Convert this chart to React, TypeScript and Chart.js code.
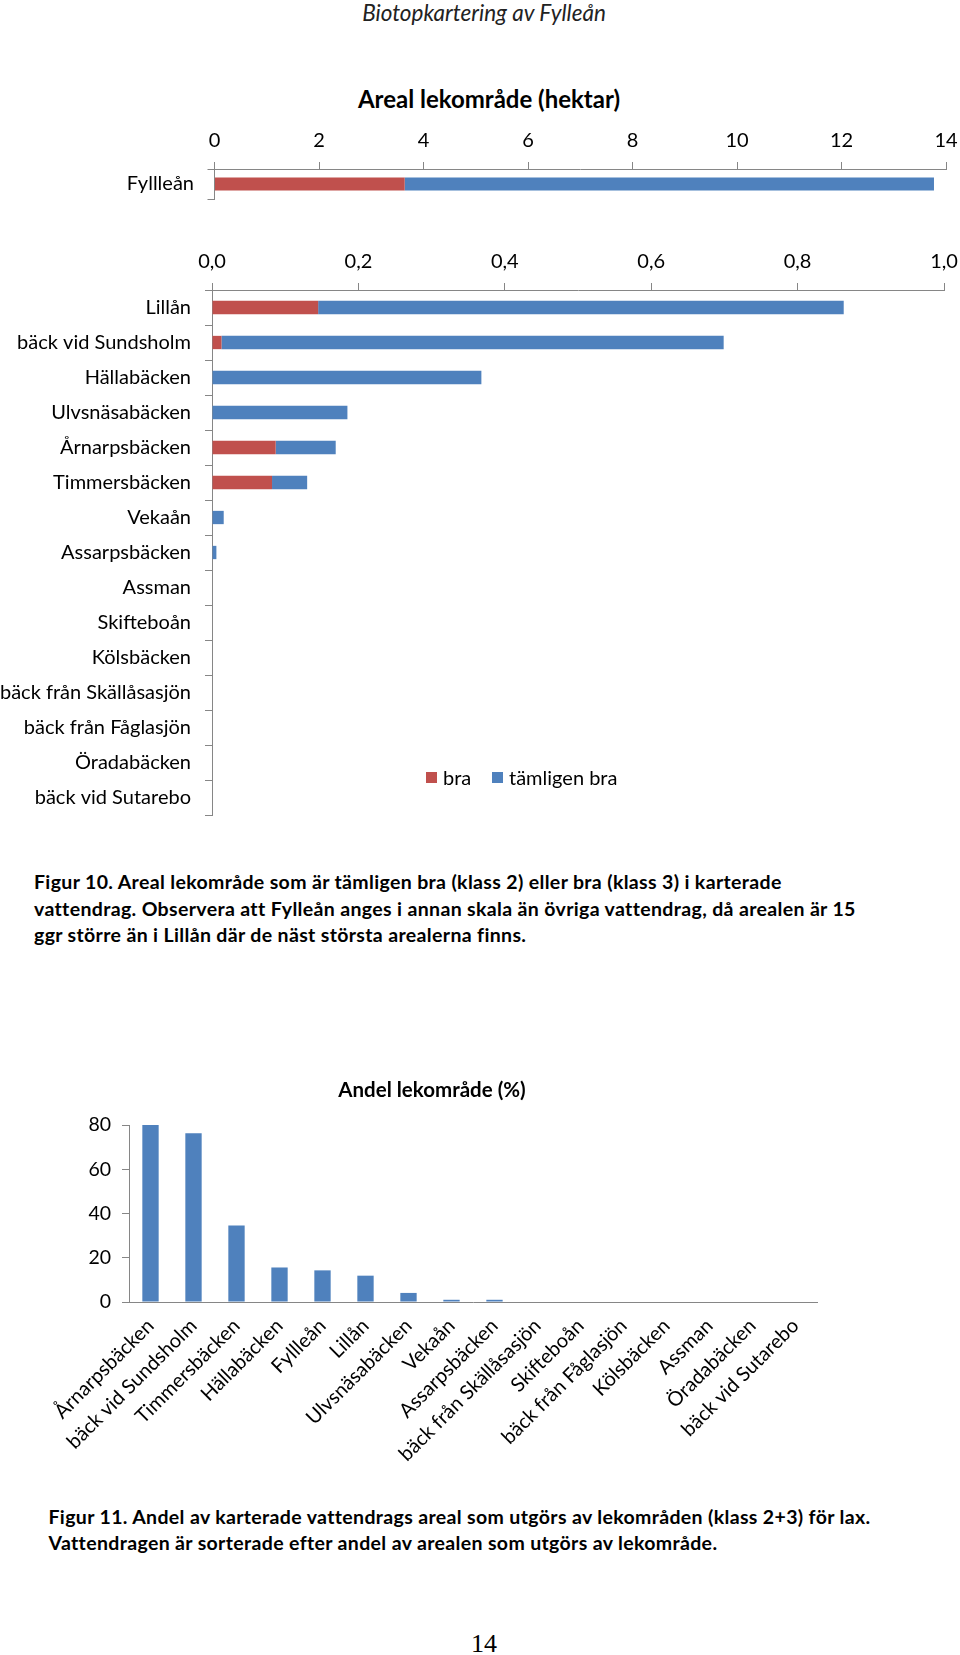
import React, { useEffect, useRef } from "react";
import { Chart, registerables } from "chart.js";

Chart.register(...registerables);

const FONT = "Lato, 'Open Sans', sans-serif";
const RED = "#C0504D";
const BLUE = "#4F81BD";
const AXIS = "#868686";
const TEXT = "#000000";

// Figure 10, top part (hektar, own scale)
const mainCategories = ["Fyllleån"];
const mainBra = [3.64];
const mainTamligen = [10.13];
const mainAxisMax = 14;
const mainAxisStep = 2;

// Figure 10, lower part (hektar)
const streamCategories = [
  "Lillån",
  "bäck vid Sundsholm",
  "Hällabäcken",
  "Ulvsnäsabäcken",
  "Årnarpsbäcken",
  "Timmersbäcken",
  "Vekaån",
  "Assarpsbäcken",
  "Assman",
  "Skifteboån",
  "Kölsbäcken",
  "bäck från Skällåsasjön",
  "bäck från Fåglasjön",
  "Öradabäcken",
  "bäck vid Sutarebo",
];
const streamBra = [0.145, 0.013, 0, 0, 0.087, 0.082, 0, 0, 0, 0, 0, 0, 0, 0, 0];
const streamTamligen = [0.718, 0.686, 0.368, 0.185, 0.082, 0.048, 0.016, 0.006, 0, 0, 0, 0, 0, 0, 0];
const streamAxisMax = 1;
const streamAxisStep = 0.2;

const seriesLabels = ["bra", "tämligen bra"];

// Figure 11 (%)
const shareCategories = [
  "Årnarpsbäcken",
  "bäck vid Sundsholm",
  "Timmersbäcken",
  "Hällabäcken",
  "Fyllleån",
  "Lillån",
  "Ulvsnäsabäcken",
  "Vekaån",
  "Assarpsbäcken",
  "bäck från Skällåsasjön",
  "Skifteboån",
  "bäck från Fåglasjön",
  "Kölsbäcken",
  "Assman",
  "Öradabäcken",
  "bäck vid Sutarebo",
];
const shareValues = [80, 76.3, 34.6, 15.6, 14.3, 11.9, 4.1, 1.0, 1.0, 0, 0, 0, 0, 0, 0, 0];
const shareAxisMax = 80;
const shareAxisStep = 20;

const headerText = "Biotopkartering av Fylleån";
const chart1Title = "Areal lekområde (hektar)";
const chart3Title = "Andel lekområde (%)";
const fig10Lines = [
  "Figur 10. Areal lekområde som är tämligen bra (klass 2) eller bra (klass 3) i karterade",
  "vattendrag. Observera att Fylleån anges i annan skala än övriga vattendrag, då arealen är 15",
  "ggr större än i Lillån där de näst största arealerna finns.",
];
const fig11Lines = [
  "Figur 11. Andel av karterade vattendrags areal som utgörs av lekområden (klass 2+3) för lax.",
  "Vattendragen är sorterade efter andel av arealen som utgörs av lekområde.",
];
const pageNumber = "14";

const commaFmt = (v: any) => Number(v).toFixed(1).replace(".", ",");

const zeroPad = (s: any) => {
  s.paddingTop = 0;
  s.paddingBottom = 0;
  s.paddingLeft = 0;
  s.paddingRight = 0;
};

function horizontalStacked(
  labels: string[],
  bra: number[],
  tam: number[],
  max: number,
  step: number,
  barPct: number,
  xAxisHeight: number,
  yAxisWidth: number,
  padding: any,
  tickFmt: (v: any) => string,
  xPad: number,
  yPad: number
): any {
  return {
    type: "bar",
    data: {
      labels,
      datasets: [
        { label: seriesLabels[0], data: bra, backgroundColor: RED, barPercentage: barPct, categoryPercentage: 1 },
        { label: seriesLabels[1], data: tam, backgroundColor: BLUE, barPercentage: barPct, categoryPercentage: 1 },
      ],
    },
    options: {
      indexAxis: "y",
      responsive: false,
      animation: false,
      devicePixelRatio: 1,
      layout: { padding },
      plugins: { legend: { display: false }, tooltip: { enabled: false }, title: { display: false } },
      scales: {
        x: {
          position: "top",
          stacked: true,
          min: 0,
          max,
          ticks: { stepSize: step, font: { family: FONT, size: 20 }, color: TEXT, padding: xPad, callback: tickFmt, maxRotation: 0 },
          grid: { drawOnChartArea: false, drawTicks: true, tickLength: 7, color: AXIS },
          border: { display: true, color: AXIS },
          afterFit: (s: any) => {
            s.height = xAxisHeight;
            zeroPad(s);
          },
        },
        y: {
          stacked: true,
          ticks: { font: { family: FONT, size: 20 }, color: TEXT, padding: yPad, autoSkip: false },
          grid: { drawOnChartArea: false, drawTicks: true, tickLength: 7, color: AXIS, offset: true },
          border: { display: true, color: AXIS },
          afterFit: (s: any) => {
            s.width = yAxisWidth;
            zeroPad(s);
          },
        },
      },
    },
  };
}

const chart1Config = () =>
  horizontalStacked(
    mainCategories,
    mainBra,
    mainTamligen,
    mainAxisMax,
    mainAxisStep,
    0.43,
    49,
    214.5,
    { left: 0, right: 14, top: 0, bottom: 11 },
    (v: any) => String(v),
    9.5,
    13.5
  );

const chart2Config = () =>
  horizontalStacked(
    streamCategories,
    streamBra,
    streamTamligen,
    streamAxisMax,
    streamAxisStep,
    0.38,
    65,
    212,
    { left: 0, right: 16, top: 0, bottom: 10 },
    commaFmt,
    9,
    14
  );

const chart3Config = (): any => ({
  type: "bar",
  data: {
    labels: shareCategories,
    datasets: [{ label: chart3Title, data: shareValues, backgroundColor: BLUE, barPercentage: 0.38, categoryPercentage: 1 }],
  },
  options: {
    responsive: false,
    animation: false,
    devicePixelRatio: 1,
    layout: { padding: { left: 47, right: 143, top: 0, bottom: 0 } },
    plugins: {
      legend: { display: false },
      tooltip: { enabled: false },
      title: {
        display: true,
        text: chart3Title,
        color: TEXT,
        font: { family: FONT, size: 20.5, weight: "bold" },
        padding: { top: 7.7, bottom: 22.7 },
      },
    },
    scales: {
      x: {
        ticks: {
          font: { family: FONT, size: 20 },
          color: TEXT,
          autoSkip: false,
          minRotation: 45,
          maxRotation: 45,
          padding: 12,
        },
        grid: { display: false, drawTicks: false },
        border: { display: true, color: AXIS },
        afterFit: (s: any) => {
          s.height = 178;
          zeroPad(s);
        },
      },
      y: {
        min: 0,
        max: shareAxisMax,
        ticks: { stepSize: shareAxisStep, font: { family: FONT, size: 19.5 }, color: TEXT, padding: 11 },
        grid: { drawOnChartArea: false, drawTicks: true, tickLength: 7, color: AXIS },
        border: { display: true, color: AXIS },
        afterFit: (s: any) => {
          s.width = 82;
          zeroPad(s);
        },
      },
    },
  },
});

function ChartBox(props: { left: number; top: number; width: number; height: number; config: () => any }) {
  const ref = useRef<HTMLCanvasElement>(null);
  useEffect(() => {
    const chart = new Chart(ref.current as HTMLCanvasElement, props.config());
    return () => chart.destroy();
  }, []);
  return (
    <canvas
      ref={ref}
      width={props.width}
      height={props.height}
      style={{ position: "absolute", left: props.left, top: props.top, width: props.width, height: props.height }}
    />
  );
}

function TextLine(props: {
  text: string;
  left: number;
  centerY: number;
  size: number;
  lh: number;
  weight?: any;
  italic?: boolean;
  family?: string;
  color?: string;
  align?: "left" | "center";
  width?: number;
  spacing?: number;
}) {
  return (
    <div
      style={{
        position: "absolute",
        left: props.left,
        top: props.centerY - props.lh / 2,
        width: props.width,
        height: props.lh,
        lineHeight: props.lh + "px",
        fontSize: props.size,
        fontFamily: props.family || FONT,
        fontWeight: props.weight || "normal",
        fontStyle: props.italic ? "italic" : "normal",
        color: props.color || TEXT,
        whiteSpace: "nowrap",
        textAlign: props.align || "left",
        letterSpacing: props.spacing ? props.spacing + "px" : "normal",
      }}
    >
      {props.text}
    </div>
  );
}

function LegendItem(props: { left: number; color: string; label: string }) {
  return (
    <div style={{ position: "absolute", left: props.left, top: 764, height: 26, display: "flex", alignItems: "center" }}>
      <span style={{ display: "inline-block", width: 11, height: 11, background: props.color, marginRight: 6 }} />
      <span style={{ fontFamily: FONT, fontSize: 20, color: TEXT, lineHeight: "26px", whiteSpace: "nowrap" }}>{props.label}</span>
    </div>
  );
}

export default function App() {
  return (
    <div style={{ position: "absolute", left: 0, top: 0, width: 960, height: 1655, background: "#ffffff", overflow: "hidden" }}>
      <TextLine text={headerText} left={184} width={600} align="center" centerY={13} size={22.5} lh={28} italic color="#222" />
      <TextLine text={chart1Title} left={189} width={600} align="center" centerY={99} size={24} lh={30} weight="bold" />
      <ChartBox left={0} top={120} width={960} height={90} config={chart1Config} />
      <ChartBox left={0} top={225} width={960} height={600} config={chart2Config} />
      <LegendItem left={426} color={RED} label={seriesLabels[0]} />
      <LegendItem left={492} color={BLUE} label={seriesLabels[1]} />
      {fig10Lines.map((t, i) => (
        <TextLine key={"f10" + i} text={t} left={34} centerY={882 + i * 26.5} size={19.5} lh={26} weight="bold" spacing={0.35} />
      ))}
      <ChartBox left={0} top={1070} width={960} height={410} config={chart3Config} />
      {fig11Lines.map((t, i) => (
        <TextLine key={"f11" + i} text={t} left={48.5} centerY={1516.5 + i * 26.5} size={19.5} lh={26} weight="bold" spacing={0.35} />
      ))}
      <TextLine text={pageNumber} left={384} width={200} align="center" centerY={1644} size={26} lh={30} family="'Liberation Serif', serif" />
    </div>
  );
}
